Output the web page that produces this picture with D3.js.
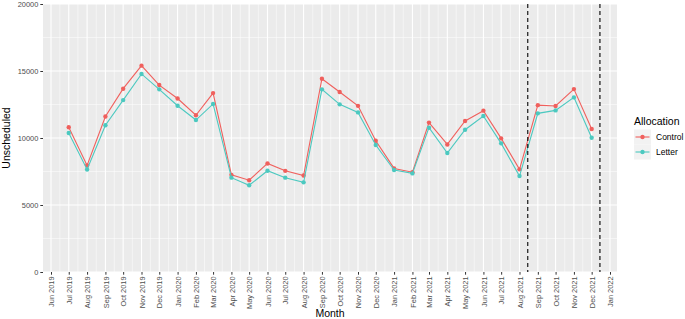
<!DOCTYPE html>
<html>
<head>
<meta charset="utf-8">
<script src="https://cdn.jsdelivr.net/npm/d3@7"></script>
<style>
  body { margin: 0; background: #fff; }
  svg { display: block; font-family: "Liberation Sans", Arial, sans-serif; }
</style>
</head>
<body>
<div id="chart"></div>
<script>
// 数据：每月未排程数量
const months = ['2019-07','2019-08','2019-09','2019-10','2019-11','2019-12',
  '2020-01','2020-02','2020-03','2020-04','2020-05','2020-06','2020-07','2020-08',
  '2020-09','2020-10','2020-11','2020-12','2021-01','2021-02','2021-03','2021-04',
  '2021-05','2021-06','2021-07','2021-08','2021-09','2021-10','2021-11','2021-12'];
const controlValues = [10800, 7950, 11600, 13680, 15400, 13950,
  12950, 11700, 13350, 7250, 6850, 8100, 7550, 7200,
  14420, 13430, 12400, 9800, 7730, 7450, 11150, 9520,
  11270, 12040, 9970, 7660, 12450, 12390, 13650, 10670];
const letterValues = [10370, 7650, 10950, 12830, 14780, 13630,
  12410, 11340, 12540, 7040, 6470, 7560, 7040, 6690,
  13630, 12510, 11910, 9480, 7610, 7360, 10770, 8880,
  10620, 11640, 9600, 7160, 11840, 12060, 13030, 10020];
const tickMonths = ['2019-06','2019-07','2019-08','2019-09','2019-10','2019-11','2019-12',
  '2020-01','2020-02','2020-03','2020-04','2020-05','2020-06','2020-07','2020-08','2020-09',
  '2020-10','2020-11','2020-12','2021-01','2021-02','2021-03','2021-04','2021-05','2021-06',
  '2021-07','2021-08','2021-09','2021-10','2021-11','2021-12','2022-01'];
const yTicks = [0, 5000, 10000, 15000, 20000];
const yMinor = [2500, 7500, 12500, 17500];
const vlineDates = ['2021-08-15', '2021-12-15'];
const seriesNames = ['Control', 'Letter'];
const colors = { Control: '#F0605D', Letter: '#4CC9C0' };

const parseMonth = d3.timeParse('%Y-%m');
const parseDay = d3.timeParse('%Y-%m-%d');
const fmt = d3.timeFormat('%b %Y');

const width = 685, height = 319;
const panel = { left: 43, right: 617, top: 4, bottom: 272 };

const svg = d3.select('#chart').append('svg')
  .attr('width', width)
  .attr('height', height);

const tickDates = tickMonths.map(parseMonth);
const x = d3.scaleTime()
  .domain([tickDates[0], tickDates[tickDates.length - 1]])
  .range([51, 610]);
const y = d3.scaleLinear()
  .domain([0, 20000])
  .range([panel.bottom, panel.top]);

// 面板背景
svg.append('rect')
  .attr('x', panel.left).attr('y', panel.top)
  .attr('width', panel.right - panel.left)
  .attr('height', panel.bottom - panel.top)
  .attr('fill', '#EBEBEB');

// 次网格线
const xMinor = d3.pairs(tickDates).map(([a, b]) => new Date((+a + +b) / 2));
svg.append('g').selectAll('line')
  .data(xMinor).join('line')
  .attr('x1', d => x(d)).attr('x2', d => x(d))
  .attr('y1', panel.top).attr('y2', panel.bottom)
  .attr('stroke', '#fff').attr('stroke-width', 0.5);
svg.append('g').selectAll('line')
  .data(yMinor).join('line')
  .attr('x1', panel.left).attr('x2', panel.right)
  .attr('y1', d => y(d)).attr('y2', d => y(d))
  .attr('stroke', '#fff').attr('stroke-width', 0.5);

// 主网格线
svg.append('g').selectAll('line')
  .data(tickDates).join('line')
  .attr('x1', d => x(d)).attr('x2', d => x(d))
  .attr('y1', panel.top).attr('y2', panel.bottom)
  .attr('stroke', '#fff').attr('stroke-width', 1.1);
svg.append('g').selectAll('line')
  .data(yTicks).join('line')
  .attr('x1', panel.left).attr('x2', panel.right)
  .attr('y1', d => y(d)).attr('y2', d => y(d))
  .attr('stroke', '#fff').attr('stroke-width', 1.1);

// 坐标轴
const xAxis = svg.append('g')
  .attr('transform', `translate(0,${panel.bottom})`)
  .call(d3.axisBottom(x).tickValues(tickDates).tickFormat(fmt).tickSize(2.7).tickPadding(2));
xAxis.select('.domain').remove();
xAxis.selectAll('line').attr('stroke', '#333');
xAxis.selectAll('text')
  .attr('transform', 'rotate(-90)')
  .attr('text-anchor', 'end')
  .attr('x', -4.5).attr('y', 0).attr('dy', '0.35em')
  .attr('fill', '#4D4D4D')
  .style('font-size', '7.4px');

const yAxis = svg.append('g')
  .attr('transform', `translate(${panel.left},0)`)
  .call(d3.axisLeft(y).tickValues(yTicks).tickFormat(d3.format('d')).tickSize(2.7).tickPadding(2));
yAxis.select('.domain').remove();
yAxis.selectAll('line').attr('stroke', '#333');
yAxis.selectAll('text').attr('fill', '#4D4D4D').style('font-size', '7.4px');

// 轴标题
svg.append('text')
  .attr('x', (panel.left + panel.right) / 2).attr('y', 317)
  .attr('text-anchor', 'middle')
  .style('font-size', '10.5px')
  .text('Month');
svg.append('text')
  .attr('transform', `translate(10,${(panel.top + panel.bottom) / 2}) rotate(-90)`)
  .attr('text-anchor', 'middle')
  .style('font-size', '10.5px')
  .text('Unscheduled');

// 数据线和点
const series = seriesNames.map(name => ({
  name,
  values: months.map((m, i) => ({
    date: parseMonth(m),
    value: name === 'Control' ? controlValues[i] : letterValues[i]
  }))
}));

const line = d3.line().x(d => x(d.date)).y(d => y(d.value));

series.forEach(s => {
  svg.append('path')
    .datum(s.values)
    .attr('fill', 'none')
    .attr('stroke', colors[s.name])
    .attr('stroke-width', 1.1)
    .attr('d', line);
  svg.append('g').selectAll('circle')
    .data(s.values).join('circle')
    .attr('cx', d => x(d.date))
    .attr('cy', d => y(d.value))
    .attr('r', 2.2)
    .attr('fill', colors[s.name]);
});

// 虚线
svg.append('g').selectAll('line')
  .data(vlineDates.map(parseDay)).join('line')
  .attr('x1', d => x(d)).attr('x2', d => x(d))
  .attr('y1', panel.top).attr('y2', panel.bottom)
  .attr('stroke', '#000')
  .attr('stroke-width', 1.1)
  .attr('stroke-dasharray', '4,3');

// 图例
const legend = svg.append('g').attr('transform', 'translate(634,0)');
legend.append('text')
  .attr('x', 0).attr('y', 125)
  .style('font-size', '10.5px')
  .text('Allocation');
seriesNames.forEach((name, i) => {
  const ky = 129.5 + i * 15;
  legend.append('rect')
    .attr('x', 0).attr('y', ky)
    .attr('width', 17).attr('height', 15)
    .attr('fill', '#F2F2F2');
  legend.append('line')
    .attr('x1', 1.5).attr('x2', 15.5)
    .attr('y1', ky + 7.5).attr('y2', ky + 7.5)
    .attr('stroke', colors[name]).attr('stroke-width', 1.1);
  legend.append('circle')
    .attr('cx', 8.5).attr('cy', ky + 7.5).attr('r', 2.2)
    .attr('fill', colors[name]);
  legend.append('text')
    .attr('x', 22).attr('y', ky + 7.5).attr('dy', '0.35em')
    .style('font-size', '8.5px')
    .text(name);
});
</script>
</body>
</html>
